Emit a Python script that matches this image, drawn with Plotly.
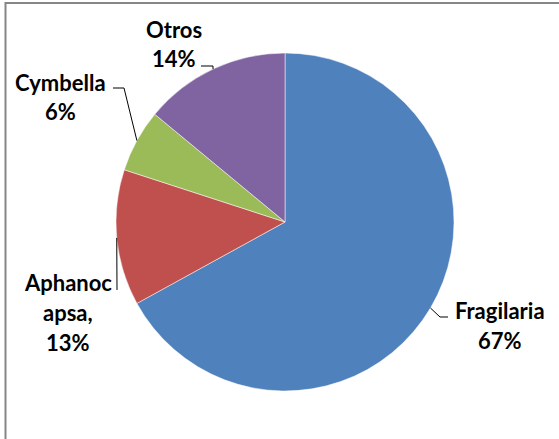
import math
import plotly.graph_objects as go

# Composition of the phytoplankton sample (percent of cells)
genera = ["Fragilaria", "Aphanocapsa", "Cymbella", "Otros"]
percents = [67, 13, 6, 14]
label_lines = [["Fragilaria"], ["Aphanoc", "apsa,"], ["Cymbella"], ["Otros"]]
colors = ["#4F81BD", "#C0504D", "#9BBB59", "#8064A2"]

W, H = 559, 439
CX, CY, R = 285, 222, 169  # pie centre and radius in pixels


def px(x):
    return x / W


def py(y):
    return 1 - y / H


fig = go.Figure(
    go.Pie(
        labels=genera,
        values=percents,
        sort=False,
        direction="clockwise",
        rotation=0,
        marker=dict(colors=colors, line=dict(color="white", width=0.5)),
        textinfo="none",
        hoverinfo="label+percent",
        showlegend=False,
        domain=dict(x=[px(CX - R), px(CX + R)], y=[py(CY + R), py(CY - R)]),
    )
)

# label block layout: centre x, middle of first line, leader elbow and end
label_layout = {
    "Fragilaria": dict(cx=500, top=310, elbow=(440, 317), end=(448, 317)),
    "Aphanocapsa": dict(cx=68, top=282, elbow=(117, 290), end=(117, 290)),
    "Cymbella": dict(cx=61, top=82, elbow=(124, 88), end=(113, 88)),
    "Otros": dict(cx=174, top=29, elbow=(213, 66), end=(201, 66)),
}
LINE_STEP = 30
font = dict(family="Lato", size=22, color="#000000", weight="bold")

shapes = []
annotations = []
total = sum(percents)
cum = 0
for name, val, lines in zip(genera, percents, label_lines):
    mid = (cum + val / 2) / total * 2 * math.pi
    cum += val
    ex = CX + R * math.sin(mid)
    ey = CY - R * math.cos(mid)
    lay = label_layout[name]
    pct = round(val / total * 100)
    texts = lines + [f"{pct}%"]
    for i, t in enumerate(texts):
        annotations.append(
            dict(
                x=px(lay["cx"]), y=py(lay["top"] + i * LINE_STEP),
                xref="paper", yref="paper", text=t, showarrow=False,
                xanchor="center", yanchor="middle", font=font,
            )
        )
    (bx, by), (tx, ty) = lay["elbow"], lay["end"]
    path = f"M {px(ex)} {py(ey)} L {px(bx)} {py(by)} L {px(tx)} {py(ty)}"
    shapes.append(dict(type="path", path=path, xref="paper", yref="paper",
                       line=dict(color="#000000", width=1)))

# chart frame (left and top edges)
shapes.append(dict(type="path", xref="paper", yref="paper",
                   path=f"M {px(5.5)} {py(439)} L {px(5.5)} {py(3)} L {px(559)} {py(3)}",
                   line=dict(color="#868686", width=2)))

fig.update_layout(
    width=W, height=H,
    margin=dict(l=0, r=0, t=0, b=0),
    paper_bgcolor="white",
    plot_bgcolor="white",
    shapes=shapes,
    annotations=annotations,
)

fig.write_html("out.html")
